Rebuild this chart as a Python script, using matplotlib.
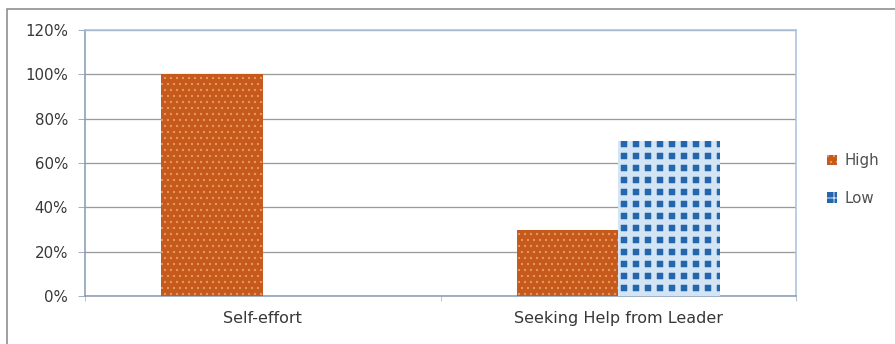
import matplotlib
matplotlib.use("Agg")
import matplotlib.pyplot as plt
from matplotlib.patches import Rectangle
from matplotlib.ticker import FuncFormatter, FixedLocator
import numpy as np

categories = ["Self-effort", "Seeking Help from Leader"]
high = [1.00, 0.30]
low = [0.00, 0.70]
series_names = ["High", "Low"]
yticks = [0, 0.2, 0.4, 0.6, 0.8, 1.0, 1.2]

DPI = 72
W, H = 895, 344
plt.rcParams["font.family"] = ["DejaVu Sans"]
fig = plt.figure(figsize=(W / DPI, H / DPI), dpi=DPI)
fig.patch.set_facecolor("white")

# outer border
fig.add_artist(Rectangle((7 / W, -0.05), 1.2, 1 - 9 / H + 0.05, transform=fig.transFigure,
                         fill=False, edgecolor="#8c8c8c", linewidth=1.6))

ax = fig.add_axes([85 / W, 1 - 296 / H, (796 - 85) / W, (296 - 30) / H])
x = np.arange(len(categories))
w = 0.285
b1 = ax.bar(x - w / 2, high, w, color="#c55a1c", edgecolor="#e99a63", hatch="..",
            linewidth=0, label=series_names[0], zorder=3)
b2 = ax.bar(x + w / 2, low, w, color="#2366ab", edgecolor="#d3e5f5", hatch="+",
            linewidth=0, label=series_names[1], zorder=3)
for p in b2:
    if hasattr(p, "set_hatch_linewidth"):
        p.set_hatch_linewidth(5.5)
for p in b1:
    if hasattr(p, "set_hatch_linewidth"):
        p.set_hatch_linewidth(1.0)

ax.set_xlim(-0.5, 1.5)
ax.set_ylim(0, 1.2)
ax.set_yticks(yticks)
ax.yaxis.set_major_formatter(FuncFormatter(lambda v, _: f"{v * 100:.0f}%"))
ax.grid(axis="y", color="#9a9a9a", linewidth=1.3, zorder=0)
ax.set_xticks(x)
ax.set_xticklabels(categories)
ax.xaxis.set_minor_locator(FixedLocator([-0.5, 0.5, 1.5]))
ax.tick_params(axis="x", which="major", length=0, pad=15, labelsize=16, colors="#383838")
ax.tick_params(axis="x", which="minor", length=5, color="#8a9db5")
ax.tick_params(axis="y", length=7, color="#8a9db5", labelsize=15, colors="#383838", pad=10)
for s in ["left", "bottom"]:
    ax.spines[s].set_color("#8a9db5")
    ax.spines[s].set_linewidth(1.6)
for s in ["top", "right"]:
    ax.spines[s].set_color("#a9c4de")
    ax.spines[s].set_linewidth(1.6)

leg = ax.legend(loc="center left", bbox_to_anchor=(1.0, 0.438), frameon=False,
                fontsize=15, handlelength=0.67, handleheight=0.67, handletextpad=0.5,
                labelspacing=1.5, borderaxespad=1.67)
for t in leg.get_texts():
    t.set_color("#505050")

fig.savefig("out.png", dpi=DPI)
